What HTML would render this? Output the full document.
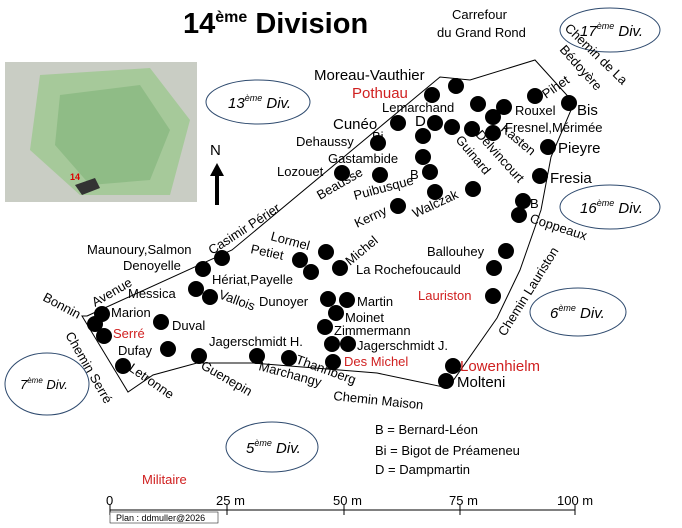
<!DOCTYPE html><html><head><style>body{margin:0;background:#fff}svg{display:block;font-family:"Liberation Sans",sans-serif}</style></head><body>
<svg width="682" height="528" viewBox="0 0 682 528">
<rect x="5" y="62" width="192" height="140" fill="#c9cdc4"/>
<path d="M40 75 L150 68 L190 120 L170 195 L80 195 L30 150Z" fill="#a6c99a"/>
<path d="M60 95 L140 85 L170 130 L150 180 L90 185 L55 145Z" fill="#8fbc86"/>
<path d="M75 185 L95 178 L100 188 L82 195Z" fill="#333"/>
<text x="70" y="180" font-size="9" fill="#d00" font-weight="bold">14</text>
<text x="183" y="33" font-size="29" font-weight="bold">14<tspan font-size="16" dy="-11">ème</tspan><tspan dy="11"> Division</tspan></text>
<g fill="none" stroke="#2e4a6e" stroke-width="1"><ellipse cx="258" cy="102" rx="52" ry="22"/><ellipse cx="610" cy="30" rx="50" ry="22"/><ellipse cx="610" cy="207" rx="50" ry="22"/><ellipse cx="578" cy="312" rx="48" ry="24"/><ellipse cx="47" cy="384" rx="42" ry="31"/><ellipse cx="272" cy="447" rx="46" ry="25"/></g>
<g font-size="15" font-style="italic"><text x="228" y="108">13<tspan font-size="9" dy="-7">ème</tspan><tspan dy="7"> Div.</tspan></text><text x="580" y="36">17<tspan font-size="9" dy="-7">ème</tspan><tspan dy="7"> Div.</tspan></text><text x="580" y="213">16<tspan font-size="9" dy="-7">ème</tspan><tspan dy="7"> Div.</tspan></text><text x="550" y="318">6<tspan font-size="9" dy="-7">ème</tspan><tspan dy="7"> Div.</tspan></text><text x="20" y="389" font-size="13">7<tspan font-size="8" dy="-6">ème</tspan><tspan dy="6"> Div.</tspan></text><text x="246" y="453">5<tspan font-size="9" dy="-7">ème</tspan><tspan dy="7"> Div.</tspan></text></g>
<path d="M87 316 L232 250 L440 77 L470 80 L535 60 L574 103 L551 157 L541 210 L520 270 L497 318 L448 388 L377 373 L253 363 L197 363 L153 375 L128 392 L82 316 Z" fill="none" stroke="#000" stroke-width="1"/>
<path d="M217 205 V172" stroke="#000" stroke-width="4"/><path d="M210 176 L217 163 L224 176Z"/>
<text x="210" y="155" font-size="15">N</text>
<g fill="#000">
<circle cx="456" cy="86" r="8"/><circle cx="432" cy="95" r="8"/><circle cx="478" cy="104" r="8"/><circle cx="504" cy="107" r="8"/><circle cx="493" cy="117" r="8"/><circle cx="535" cy="96" r="8"/><circle cx="569" cy="103" r="8"/><circle cx="398" cy="123" r="8"/><circle cx="435" cy="123" r="8"/><circle cx="452" cy="127" r="8"/><circle cx="472" cy="129" r="8"/><circle cx="493" cy="133" r="8"/><circle cx="378" cy="143" r="8"/><circle cx="423" cy="136" r="8"/><circle cx="423" cy="157" r="8"/><circle cx="430" cy="172" r="8"/><circle cx="342" cy="173" r="8"/><circle cx="380" cy="175" r="8"/><circle cx="435" cy="192" r="8"/><circle cx="398" cy="206" r="8"/><circle cx="473" cy="189" r="8"/><circle cx="548" cy="147" r="8"/><circle cx="540" cy="176" r="8"/><circle cx="523" cy="201" r="8"/><circle cx="519" cy="215" r="8"/>
<circle cx="222" cy="258" r="8"/><circle cx="203" cy="269" r="8"/><circle cx="326" cy="252" r="8"/><circle cx="300" cy="260" r="8"/><circle cx="311" cy="272" r="8"/><circle cx="340" cy="268" r="8"/><circle cx="506" cy="251" r="8"/><circle cx="494" cy="268" r="8"/><circle cx="196" cy="289" r="8"/><circle cx="210" cy="297" r="8"/><circle cx="328" cy="299" r="8"/><circle cx="347" cy="300" r="8"/><circle cx="336" cy="313" r="8"/><circle cx="493" cy="296" r="8"/><circle cx="102" cy="314" r="8"/><circle cx="95" cy="324" r="8"/><circle cx="104" cy="336" r="8"/><circle cx="161" cy="322" r="8"/><circle cx="325" cy="327" r="8"/><circle cx="332" cy="344" r="8"/><circle cx="348" cy="344" r="8"/><circle cx="168" cy="349" r="8"/><circle cx="199" cy="356" r="8"/><circle cx="257" cy="356" r="8"/><circle cx="289" cy="358" r="8"/><circle cx="333" cy="362" r="8"/><circle cx="453" cy="366" r="8"/><circle cx="446" cy="381" r="8"/><circle cx="123" cy="366" r="8"/>
</g>
<g font-size="13">
<text x="452" y="19">Carrefour</text><text x="437" y="37">du Grand Rond</text>
<text x="314" y="80" font-size="15">Moreau-Vauthier</text>
<text x="352" y="98" font-size="15" fill="#d02020">Pothuau</text>
<text x="382" y="112">Lemarchand</text>
<text x="333" y="129" font-size="15">Cunéo</text><text x="415" y="126" font-size="15">D</text>
<text x="372" y="141">Bi</text><text x="296" y="146">Dehaussy</text>
<text x="328" y="163">Gastambide</text><text x="410" y="179">B</text>
<text x="277" y="176">Lozouet</text>
<text x="515" y="115">Rouxel</text><text x="577" y="115" font-size="15">Bis</text>
<text x="505" y="132">Fresnel,Mérimée</text>
<text x="558" y="153" font-size="15">Pieyre</text><text x="550" y="183" font-size="15">Fresia</text>
<text x="530" y="208">B</text>
<text x="427" y="256">Ballouhey</text><text x="356" y="274">La Rochefoucauld</text>
<text x="418" y="300" fill="#d02020">Lauriston</text>
<text x="87" y="254">Maunoury,Salmon</text><text x="123" y="270">Denoyelle</text>
<text x="212" y="284">Hériat,Payelle</text><text x="128" y="298">Messica</text>
<text x="259" y="306">Dunoyer</text><text x="357" y="306">Martin</text><text x="345" y="322">Moinet</text>
<text x="111" y="317">Marion</text><text x="113" y="338" fill="#d02020">Serré</text>
<text x="172" y="330">Duval</text><text x="118" y="355">Dufay</text>
<text x="334" y="335">Zimmermann</text><text x="209" y="346">Jagerschmidt H.</text><text x="357" y="350">Jagerschmidt J.</text>
<text x="344" y="366" fill="#d02020">Des Michel</text>
<text x="460" y="371" font-size="15" fill="#d02020">Lowenhielm</text><text x="457" y="387" font-size="15">Molteni</text>
<text x="375" y="434">B = Bernard-Léon</text><text x="375" y="455">Bi = Bigot de Préameneu</text><text x="375" y="474">D = Dampmartin</text>
<text x="142" y="484" fill="#d02020">Militaire</text>
<text x="333" y="400" transform="rotate(6 333 400)">Chemin Maison</text>
<text transform="translate(212 255) rotate(-33)">Casimir Périer</text>
<text transform="translate(95 307) rotate(-30)">Avenue</text>
<text transform="translate(42 300) rotate(28)">Bonnin</text>
<text transform="translate(65 335) rotate(60)">Chemin Serré</text>
<text transform="translate(128 370) rotate(35)">Letronne</text>
<text transform="translate(200 368) rotate(30)">Guenepin</text>
<text transform="translate(258 370) rotate(15)">Marchangy</text>
<text transform="translate(295 363) rotate(20)">Thannberg</text>
<text transform="translate(218 298) rotate(20)">Vallois</text>
<text transform="translate(270 240) rotate(15)">Lormel</text>
<text transform="translate(250 253) rotate(12)">Petiet</text>
<text transform="translate(350 266) rotate(-40)">Michel</text>
<text transform="translate(320 200) rotate(-30)">Beausse</text>
<text transform="translate(355 200) rotate(-15)">Puibusque</text>
<text transform="translate(357 228) rotate(-25)">Kerny</text>
<text transform="translate(415 218) rotate(-25)">Walczak</text>
<text transform="translate(455 140) rotate(50)">Guinard</text>
<text transform="translate(475 135) rotate(48)">Delvincourt</text>
<text transform="translate(500 130) rotate(40)">Kasten</text>
<text transform="translate(546 99) rotate(-35)">Pihet</text>
<text transform="translate(564 29) rotate(44)">Chemin de La</text>
<text transform="translate(559 50) rotate(48)">Bédoyère</text>
<text transform="translate(529 222) rotate(18)">Coppeaux</text>
<text transform="translate(505 337) rotate(-58)">Chemin Lauriston</text>
</g>
<path d="M110 510 H575 M110 505 V515 M227 505 V515 M344 505 V515 M460 505 V515 M575 505 V515" stroke="#000"/>
<g font-size="13"><text x="106" y="505">0</text><text x="216" y="505">25 m</text><text x="333" y="505">50 m</text><text x="449" y="505">75 m</text><text x="557" y="505">100 m</text></g>
<rect x="110" y="512" width="108" height="11" fill="#fff" stroke="#000" stroke-width=".5"/>
<text x="116" y="521" font-size="9">Plan : ddmuller@2026</text>
</svg></body></html>
